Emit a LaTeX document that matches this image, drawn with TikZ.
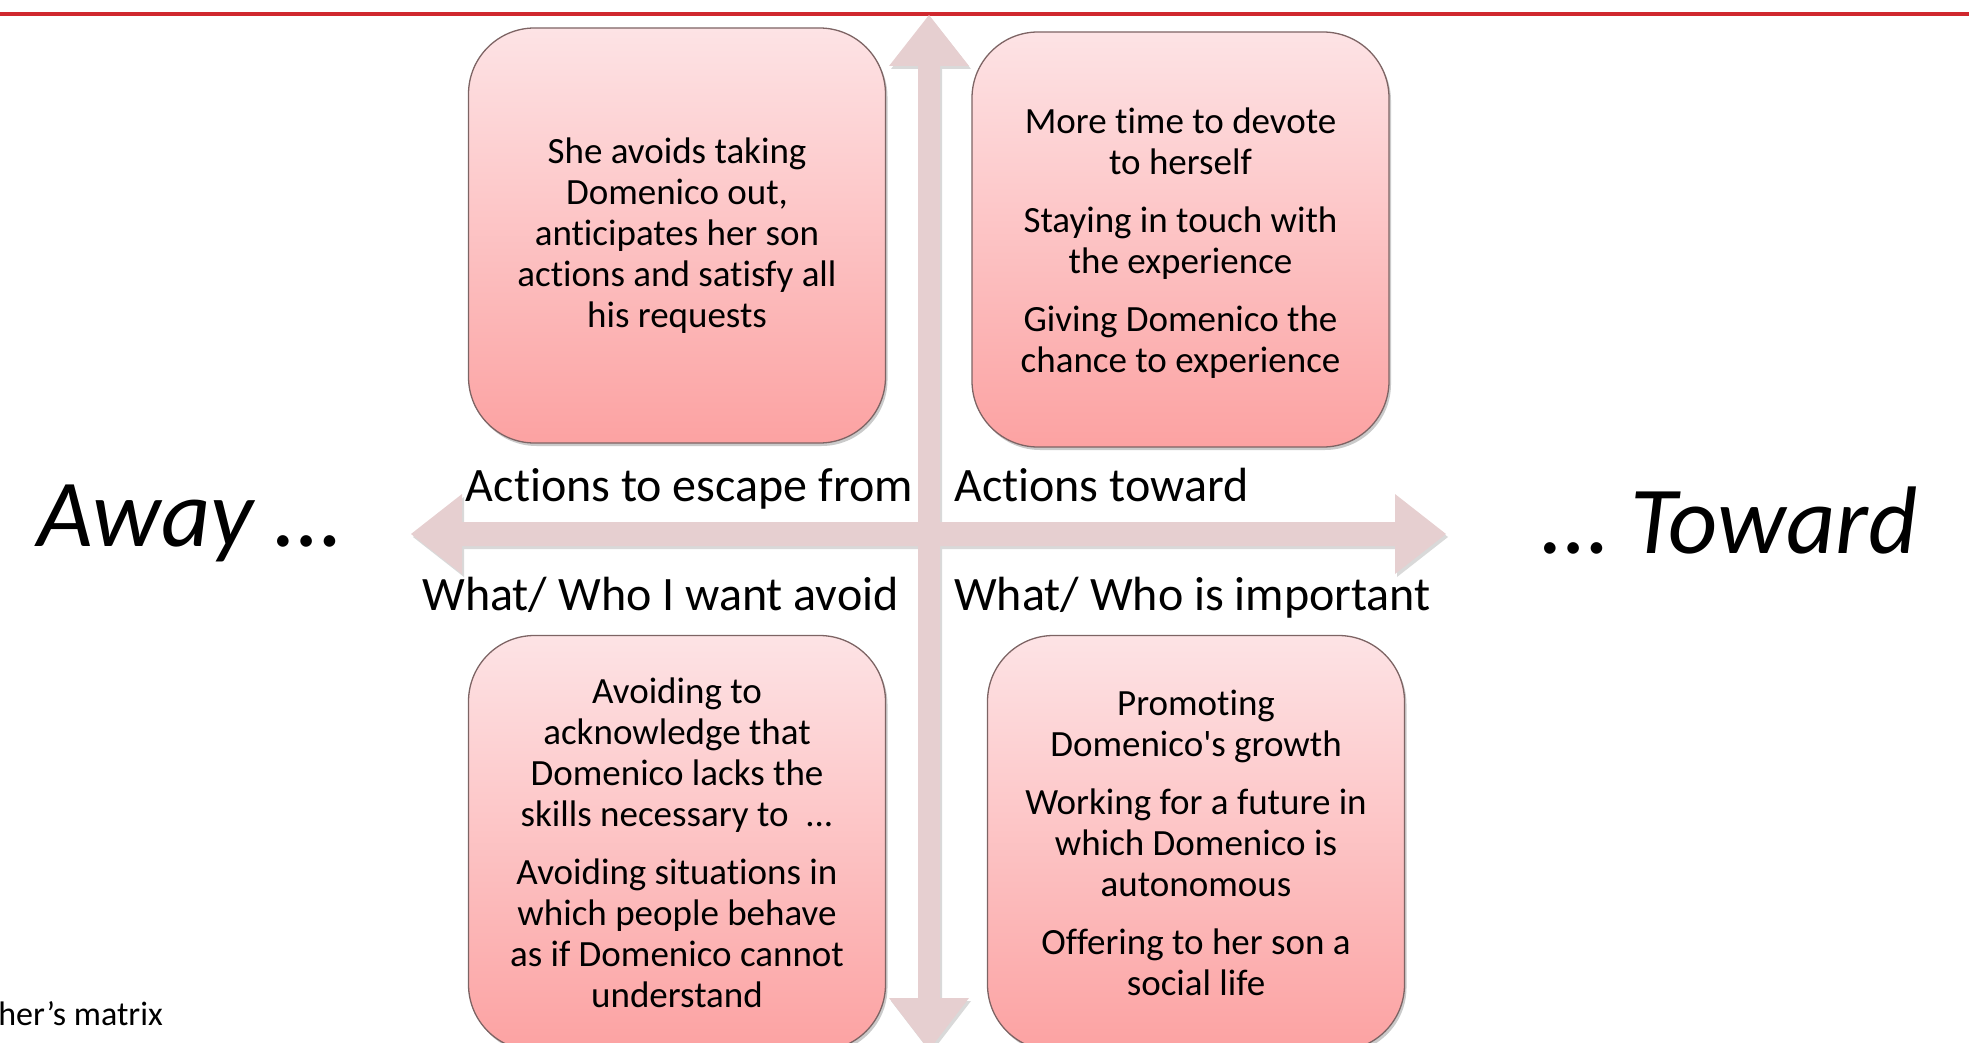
\documentclass[tikz,border=0pt]{standalone}
\usepackage{fontspec}
\setmainfont{Carlito}[Ligatures={TeXOff,CommonOff}]
\usetikzlibrary{shadows}

\definecolor{cardtop}{RGB}{253,227,229}
\definecolor{cardbot}{RGB}{252,162,162}
\definecolor{cardline}{RGB}{125,100,100}
\definecolor{axisfill}{RGB}{230,207,208}
\definecolor{topline}{RGB}{208,40,46}

\begin{document}
\begin{tikzpicture}[x=1pt,y=-1pt,
  cardtext/.style={align=center, inner sep=0pt, font=\fontsize{37}{41}\selectfont},
  card/.style={cardtext, draw=cardline, line width=1.3pt, rounded corners=66pt,
    top color=cardtop, bottom color=cardbot,
    minimum width=417pt, minimum height=415pt,
    drop shadow={shadow xshift=2pt, shadow yshift=-3pt, opacity=0.35, fill=black!60}},
  axislabel/.style={inner sep=0pt, font=\fontsize{48}{58}\selectfont},
  pole/.style={inner sep=0pt, font=\fontsize{96}{110}\selectfont\itshape},
  caption/.style={inner sep=0pt, font=\fontsize{34}{40}\selectfont},
  axis/.style={fill=axisfill,
    drop shadow={shadow xshift=2pt, shadow yshift=-3pt, opacity=0.3, fill=black!50}}]

\useasboundingbox (0,0) rectangle (1969,1043);
\clip (0,0) rectangle (1969,1043);

% header rule
\draw[topline, line width=3.5pt] (0,14) -- (1969,14);

% the two crossing double arrows, filled as one shape
\path[axis]
  (411,534) -- (462,494) -- (462,522) -- (1395,522) -- (1395,494) -- (1446,534)
  -- (1395,574) -- (1395,546) -- (462,546) -- (462,574) -- cycle
  (929,15) -- (969,66) -- (940,66) -- (940,998) -- (969,998) -- (929,1050)
  -- (889,998) -- (918,998) -- (918,66) -- (889,66) -- cycle;

% quadrant cards
\node[card] (escape) at (677,235.5) {She avoids taking\\Domenico out,\\anticipates her son\\actions and satisfy all\\his requests};
\node[card] (toward) at (1180.5,239.5) {};
\node[cardtext] (towardtext) at (1180.5,243.5) {More time to devote\\to herself\\[17pt]Staying in touch with\\the experience\\[17pt]Giving Domenico the\\chance to experience};
\node[card] (avoid) at (677,843) {Avoiding to\\acknowledge that\\Domenico lacks the\\skills necessary to\ \ ...\\[17pt]Avoiding situations in\\which people behave\\as if Domenico cannot\\understand};
\node[card] (important) at (1196,843) {Promoting\\Domenico's growth\\[17pt]Working for a future in\\which Domenico is\\autonomous\\[17pt]Offering to her son a\\social life};

% axis labels
\node[axislabel, anchor=base east] (lblescape) at (913,501) {Actions to escape from};
\node[axislabel, anchor=base west] (lbltoward) at (954,501) {Actions toward};
\node[axislabel, anchor=base east] (lblavoid) at (899,610) {What/ Who I want avoid};
\node[axislabel, anchor=base west] (lblimportant) at (954,610) {What/ Who is important};

% poles
\node[pole, anchor=base west] (away) at (37,546) {Away …};
\node[pole, anchor=base east] (towardpole) at (1918,553) {… Toward};

% caption
\node[caption, anchor=base east] (matrix) at (163,1025) {her’s matrix};
\end{tikzpicture}
\end{document}
